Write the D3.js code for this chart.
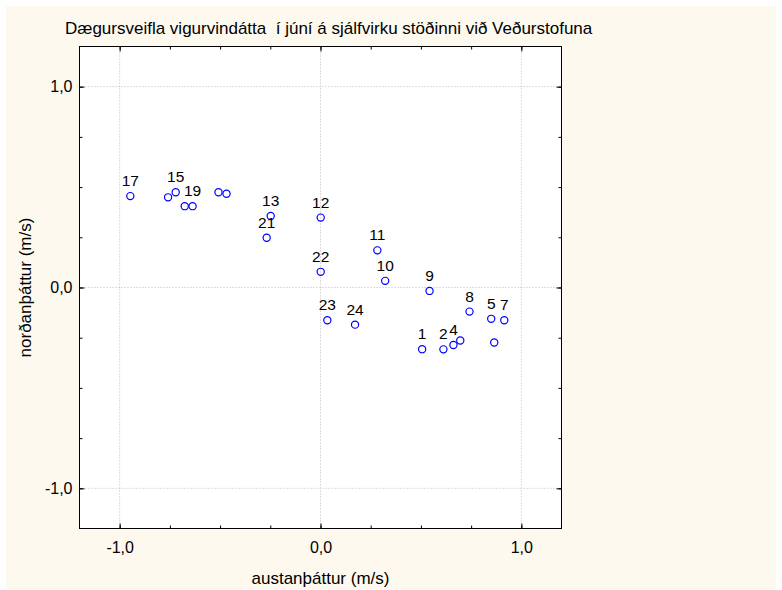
<!DOCTYPE html>
<html>
<head>
<meta charset="utf-8">
<script src="https://cdn.jsdelivr.net/npm/d3@7"></script>
<style>
  body { margin: 0; background: #fff; }
  svg { display: block; font-family: "Liberation Sans", Arial, sans-serif; }
</style>
</head>
<body>
<div id="chart"></div>
<script>
// hodograph points: east component, north component, hour label ("" = no label)
const hourLabels = ["17", "", "15", "", "19", "", "", "13", "21", "12", "11", "22",
                    "10", "9", "23", "24", "8", "5", "7", "", "1", "2", "4", ""];
const eastVals  = [-0.947, -0.759, -0.721, -0.676, -0.637, -0.508, -0.468, -0.248, -0.268, 0.001, 0.283, 0.001,
                    0.322, 0.543, 0.034, 0.172, 0.742, 0.850, 0.915, 0.865, 0.506, 0.612, 0.662, 0.696];
const northVals = [0.455, 0.449, 0.474, 0.405, 0.405, 0.474, 0.467, 0.356, 0.248, 0.348, 0.185, 0.078,
                   0.033, -0.017, -0.163, -0.185, -0.120, -0.156, -0.163, -0.274, -0.307, -0.308, -0.286, -0.264];

const majorTicks = [-1, 0, 1];
const minorTicks = [-1, -0.75, -0.5, -0.25, 0, 0.25, 0.5, 0.75, 1];

const title = "Dægursveifla vigurvindátta\u00a0 í júní á sjálfvirku stöðinni við Veðurstofuna";
const xTitle = "austanþáttur (m/s)";
const yTitle = "norðanþáttur (m/s)";

const data = hourLabels.map((h, i) => ({ label: h, x: eastVals[i], y: northVals[i] }));

const width = 782;
const height = 590;
const plot = { left: 79.5, top: 46.5, right: 561.5, bottom: 528.5 };

const locale = d3.formatLocale({ decimal: ",", thousands: ".", grouping: [3], currency: ["", ""], minus: "-" });
const fmt = locale.format(".1f");

const svg = d3.select("#chart")
              .append("svg")
              .attr("width", width)
              .attr("height", height);

svg.append("rect")
   .attr("x", 6)
   .attr("y", 6)
   .attr("width", 770)
   .attr("height", 583)
   .attr("fill", "#fdf9ee");

svg.append("rect")
   .attr("x", plot.left)
   .attr("y", plot.top)
   .attr("width", plot.right - plot.left)
   .attr("height", plot.bottom - plot.top)
   .attr("fill", "#fff");

const xScale = d3.scaleLinear().domain([-1.2, 1.2]).range([plot.left, plot.right]);
const yScale = d3.scaleLinear().domain([-1.2, 1.2]).range([plot.bottom, plot.top]);

// dotted grid at the major ticks
svg.append("g")
   .selectAll("line")
   .data(majorTicks)
   .enter()
   .append("line")
   .attr("x1", d => xScale(d))
   .attr("x2", d => xScale(d))
   .attr("y1", plot.top)
   .attr("y2", plot.bottom)
   .attr("stroke", "#bbb")
   .attr("stroke-dasharray", "1,2");

svg.append("g")
   .selectAll("line")
   .data(majorTicks)
   .enter()
   .append("line")
   .attr("y1", d => yScale(d))
   .attr("y2", d => yScale(d))
   .attr("x1", plot.left)
   .attr("x2", plot.right)
   .attr("stroke", "#bbb")
   .attr("stroke-dasharray", "1,2");

// inward ticks on all four sides
function ticks(axis, transform, values, size) {
  const g = svg.append("g")
               .attr("transform", transform)
               .call(axis.tickValues(values).tickSize(-size).tickFormat(""));
  g.select(".domain").remove();
  g.selectAll("line").attr("stroke", "#000");
  return g;
}
ticks(d3.axisBottom(xScale), "translate(0," + plot.bottom + ")", minorTicks, 3);
ticks(d3.axisTop(xScale), "translate(0," + plot.top + ")", minorTicks, 3);
ticks(d3.axisLeft(yScale), "translate(" + plot.left + ",0)", minorTicks, 3);
ticks(d3.axisRight(yScale), "translate(" + plot.right + ",0)", minorTicks, 3);
ticks(d3.axisBottom(xScale), "translate(0," + plot.bottom + ")", majorTicks, 5);
ticks(d3.axisTop(xScale), "translate(0," + plot.top + ")", majorTicks, 5);
ticks(d3.axisLeft(yScale), "translate(" + plot.left + ",0)", majorTicks, 5);
ticks(d3.axisRight(yScale), "translate(" + plot.right + ",0)", majorTicks, 5);

// tick labels
const xAxis = svg.append("g")
                 .attr("transform", "translate(0," + plot.bottom + ")")
                 .call(d3.axisBottom(xScale).tickValues(majorTicks).tickSize(0).tickPadding(13).tickFormat(fmt));
xAxis.select(".domain").remove();
xAxis.selectAll("text").style("font-size", "16px").attr("fill", "#000");

const yAxis = svg.append("g")
                 .attr("transform", "translate(" + plot.left + ",0)")
                 .call(d3.axisLeft(yScale).tickValues(majorTicks).tickSize(0).tickPadding(7).tickFormat(fmt));
yAxis.select(".domain").remove();
yAxis.selectAll("text").style("font-size", "16px").attr("fill", "#000");

svg.append("rect")
   .attr("x", plot.left)
   .attr("y", plot.top)
   .attr("width", plot.right - plot.left)
   .attr("height", plot.bottom - plot.top)
   .attr("fill", "none")
   .attr("stroke", "#000");

// points and hour labels
svg.append("g")
   .selectAll("circle")
   .data(data)
   .enter()
   .append("circle")
   .attr("cx", d => xScale(d.x))
   .attr("cy", d => yScale(d.y))
   .attr("r", 3.6)
   .attr("fill", "none")
   .attr("stroke", "#0000ff")
   .attr("stroke-width", 1.2);

svg.append("g")
   .selectAll("text")
   .data(data.filter(d => d.label !== ""))
   .enter()
   .append("text")
   .attr("x", d => xScale(d.x))
   .attr("y", d => yScale(d.y) - 10)
   .attr("text-anchor", "middle")
   .style("font-size", "15.5px")
   .text(d => d.label);

svg.append("text")
   .attr("x", 65)
   .attr("y", 34)
   .style("font-size", "17px")
   .text(title);

svg.append("text")
   .attr("x", (plot.left + plot.right) / 2)
   .attr("y", 584)
   .attr("text-anchor", "middle")
   .style("font-size", "17px")
   .text(xTitle);

svg.append("text")
   .attr("transform", "translate(31," + ((plot.top + plot.bottom) / 2) + ") rotate(-90)")
   .attr("text-anchor", "middle")
   .style("font-size", "17px")
   .text(yTitle);
</script>
</body>
</html>
